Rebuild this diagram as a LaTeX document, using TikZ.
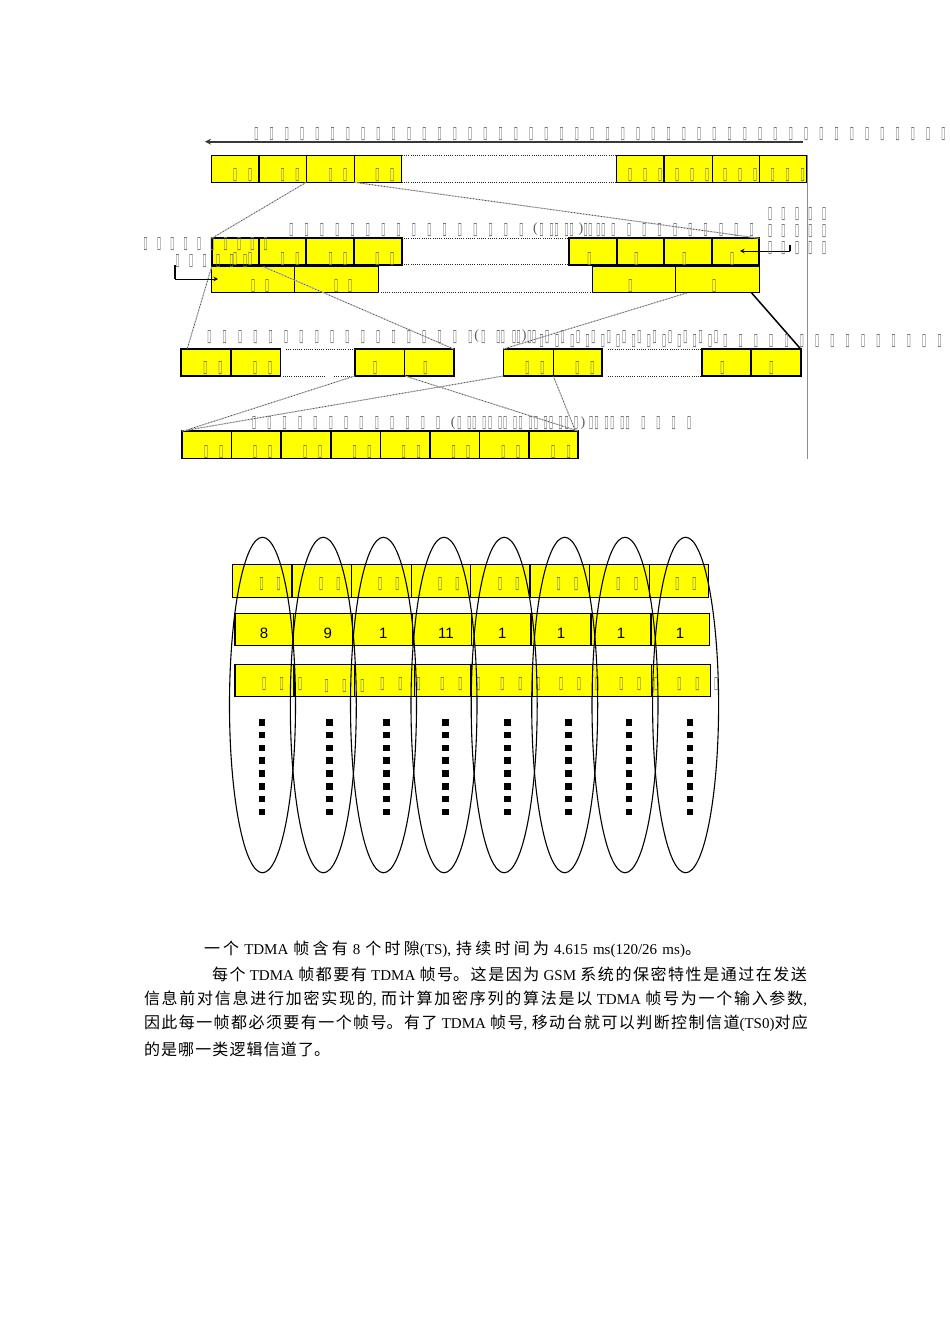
\documentclass[tikz,border=0pt]{standalone}
\usepackage{graphicx}
\usepackage{fontspec}
\setmainfont{Noto Sans CJK SC}
\newfontfamily\timesf{Liberation Serif}
\newfontfamily\arialf{Liberation Sans}
\newfontfamily\tofufont{DejaVu Sans}
\usetikzlibrary{arrows.meta,shapes.geometric}
\definecolor{cellyellow}{RGB}{255,255,0}
\newcounter{gc}
\newcommand\tfg{\resizebox{4.5pt}{11pt}{\tofufont ▯}}
\newcommand\tfrun[4]{\foreach \k in {1,...,#3}{\stepcounter{gc}\node[tofu] (g\arabic{gc}) at ({#2+(\k-1)*#4},#1+.8) {\tfg};}}
\newcommand\tfl[2]{\foreach \x in {#2}{\stepcounter{gc}\node[tofu] (g\arabic{gc}) at (\x,#1+.8) {\tfg};}}
\newcommand\cells[4][]{\foreach \n/\xa/\xb in {#4}{\node[cellbox,#1,minimum width={(\xb-\xa)*1pt},minimum height={(#3-#2)*1pt}] (\n) at ({(\xa+\xb)/2},{(#2+#3)/2}) {};}}
\newcommand\lt[1]{{\timesf\fontsize{15}{15}\selectfont #1}}
\tikzset{
 tofu/.style={inner sep=0,outer sep=0,text=black!55},
 paren/.style={inner sep=0,outer sep=0,text=black!65,font=\timesf\fontsize{14}{14}\selectfont},
 cellbox/.style={draw=black,fill=cellyellow,line width=1.5pt,inner sep=0,outer sep=0},
 conn/.style={draw=black!28,line width=1pt,postaction={draw=black!75,line width=.7pt,dash pattern=on .8pt off 2.2pt}},
 dots/.style={draw=black!85,line width=1pt,dash pattern=on 1pt off 1.2pt},
 bigell/.style={ellipse,draw=black,line width=1.1pt,minimum width=66pt,minimum height=335.5pt,inner sep=0,outer sep=0},
 num/.style={inner sep=0,font=\arialf\fontsize{15}{15}\selectfont},
 sq/.style={fill=black,draw=none,minimum size=6.7pt,inner sep=0,outer sep=0},
 para/.style={anchor=west,inner sep=0,outer sep=0,align=justify,font=\fontsize{16}{18}\selectfont},
}
\XeTeXlinebreaklocale "zh"
\XeTeXlinebreakskip=0pt plus 4pt
\begin{document}
\begin{tikzpicture}[x=1pt,y=-1pt]
\useasboundingbox (0,0) rectangle (950,1344);
% ---- gray vertical rule
\coordinate (vt) at (807.3,155); \coordinate (vb) at (807.3,459);
\draw[draw=black!45,line width=1pt] (vt) -- (vb);
% ---- row A
\cells[line width=1.2pt]{155.7}{182.3}{a1/211.7/259,a2/259/306.3,a3/306.3/354.3,a4/354.3/401.7,a5/616.7/664,a6/664/712.3,a7/712.3/759.7,a8/759.7/806.7}
% ---- row B
\cells[line width=1.7pt]{238.3}{264.7}{b1/211.7/259,b2/259/306.3,b3/306.3/354.3,b4/354.3/401.7,b5/569.3/616.7,b6/616.7/664.3,b7/664.3/712.3,b8/712.3/759.3}
% ---- row C
\cells{266.7}{292.7}{c1/211.7/294.7,c2/294.7/378.3,c3/592.7/675.7,c4/675.7/759.3}
% ---- row D
\cells[line width=1.6pt]{349}{376}{d1/181/230.7,d2/230.7/280.3,d3/354.7/404.3,d4/404.3/453.7,d5/503.3/553.3,d6/553.3/601.7,d7/701.7/751,d8/751/800.7}
% ---- row E
\cells{431}{458.3}{e1/182/231.7,e2/231.7/281,e3/281/331,e4/331/380.7,e5/380.7/430,e6/430/479.7,e7/479.7/529,e8/529/578}
% ---- dotted continuations
\draw[dots] (a4.north east) -- (a5.north west);
\draw[dots] (a4.south east) -- (a5.south west);
\draw[dots] (b4.north east) -- (b5.north west);
\draw[dots] (b4.south east) -- (b5.south west);
\draw[dots] (c2.south east) -- (c3.south west);
\coordinate (dgapa) at (325,376); \coordinate (dgapb) at (334,376);
\coordinate (dtopa) at (286,349); \coordinate (dtopb) at (358,349);
\draw[dots] (dtopa) -- (dtopb);
\draw[dots] (d2.south east) -- (dgapa);
\draw[dots] (dgapb) -- (d3.south west);
\coordinate (dra) at (608,349); \coordinate (drb) at (608,376);
\draw[dots] (dra) -- (d7.north west);
\draw[dots] (drb) -- (d7.south west);
% ---- zoom connectors
\coordinate (k1) at (187.3,348.5);
\coordinate (k2) at (263,266.5);
\coordinate (k3) at (686.7,293);
\coordinate (k4) at (751.7,293);
\coordinate (k5) at (186.7,430);
\coordinate (k6) at (405,376);
\coordinate (k7) at (553.3,376);
\coordinate (k8) at (575,430);
\draw[conn] (a2.south east) -- (b1.north west);
\draw[conn] (a3.south east) -- (b8.north east);
\draw[conn] (c1.north west) -- (k1);
\draw[conn] (k2) -- (d4.north east);
\draw[conn] (k3) -- (d5.north west);
\draw[draw=black,line width=1.5pt] (k4) -- (d8.north east);
\draw[conn] (d3.south west) -- (k5);
\draw[conn] (d5.south west) -- (e1.north west);
\draw[conn] (k6) -- (e8.north east);
\draw[conn] (k7) -- (k8);
% ---- top arrow
\coordinate (tr) at (803,141.7); \coordinate (tl) at (205,141.7);
\draw[draw=black!78,line width=1.7pt,-{Stealth[length=6pt,width=6pt]}] (tr) -- (tl);
% ---- left and right bracket arrows
\coordinate (la) at (175,265); \coordinate (lb) at (175,279); \coordinate (lc) at (218,279);
\draw[line width=1.6pt] (la) -- (lb);
\draw[line width=.9pt,-{Stealth[length=4.5pt,width=4.5pt]}] (lb) -- (lc);
\coordinate (ra) at (790,244.5); \coordinate (rb) at (790,251); \coordinate (rc) at (740,251);
\draw[line width=1.6pt] (ra) -- (rb);
\draw[line width=.9pt,-{Stealth[length=4.5pt,width=4.5pt]}] (rb) -- (rc);
% ---- text rows (undisplayable glyphs)
\tfrun{133}{256.3}{46}{15.27}
\tfrun{229.3}{291.3}{16}{15.33}
\tfl{229.3}{541.5,551.7,556.7,566.7,571.7,585.5,590.3,598.3,603.3,613.3,629,644.3,659.7,675,690.3,705.7,721,736.3,751.7}
\node[paren] (p1) at (535.5,229.3) {(};
\node[paren] (p2) at (581,229.3) {)};
\tfrun{243.3}{145.7}{10}{13.33}
\tfrun{260}{177.7}{6}{13.5}
\tfl{213.3}{770,783.3,797,810.3,824}
\tfl{230}{770,783.3,797,810.3,824}
\tfl{247.3}{770,783.3,797,810.3,824}
\tfrun{336}{209.3}{18}{15.35}
\node[paren] (p3) at (476.7,336) {(};
\tfl{336}{483.3,498.3,502.8,514,518.5,529.3,534,547,562.7,578,593.3,608.8,624,639.3,654.6,670,685.3,700.6,716}
\node[paren] (p4) at (524.2,336) {)};
\tfrun{340}{541.7}{27}{15.3}
\tfrun{422.7}{254}{13}{15.35}
\node[paren] (p5) at (453.3,422.7) {(};
\tfl{422.7}{459.3,469.3,474.3,484.3,490,500,505,515,520.5,530.7,536,545.7,551,560.7,566.7,576,591,596.7,606.7,612.3,622.3,627.7,643.3,658.3,673.7,689}
\node[paren] (p6) at (583,422.7) {)};
% ---- cell labels, upper figure
\tfl{174.3}{235,250,282.7,297.3,330.7,345,377.3,392,630,645,660,677,692,707,725,740,755,772.7,787.7,802.7}
\tfl{258.3}{235,250,282.7,297.3,330.7,345,377.3,392,589.3,636.3,684.3,732}
\tfl{285}{253,267,336,350,630.3,714}
\tfl{367.3}{205.3,220.3,255,270,375,425.3,527.3,542.3,577.3,592.3,722.3,771.3}
\tfl{451}{206,221,255,270,305,320,354.7,369.3,403.7,418.7,453.7,468,503.3,518,553,568.7}
% ---- lower figure
\cells[line width=1.3pt]{564.3}{597.3}{f1/232.7/292,f2/292/351.7,f3/351.7/411.7,f4/411.7/470.7,f5/470.7/530,f6/530/589.7,f7/589.7/649.7,f8/649.7/708.3}
\cells[line width=1.2pt]{613.3}{645.3}{h1/235/293.3,h2/293.3/352.7,h3/352.7/412.7,h4/412.7/471.7,h5/471.7/531,h6/531/591,h7/591/651,h8/651/709.7}
\cells[line width=1.3pt]{664.7}{696.7}{i1/235/294,i2/294/354.3,i3/354.3/414.3,i4/414.3/471,i5/471/532.3,i6/532.3/592.3,i7/592.3/651.7,i8/651.7/710.7}
\tfl{583.3}{261.7,278.7,321,338.3,380,397.3,440,457.3,500,517.3,558.7,576,618.3,636,677.3,694.3}
\tfl{683}{264,281.7,300,382.3,400.3,418.7,442.3,460.3,478.3,502.3,520.3,538.3,561,579,597,621.3,639,656,679.3,697.3,716}
\tfl{685.5}{326.7,344.3,362.3}
\node[num] (n1) at (264,633) {8};
\node[num] (n2) at (327.7,633) {9};
\node[num] (n3) at (383.3,633) {1};
\node[num] (n4) at (446,633) {11};
\node[num] (n5) at (502.3,633) {1};
\node[num] (n6) at (561,633) {1};
\node[num] (n7) at (621,633) {1};
\node[num] (n8) at (680,633) {1};
\foreach \i/\x in {1/262.5,2/323.3,3/383.5,4/444,5/504.2,6/564.7,7/625,8/685.6}{\node[bigell] (el\i) at (\x,705) {};}
\foreach \i/\x in {1/262,2/329.3,3/386.7,4/445.7,5/507.3,6/568.3,7/629,8/690}{
  \foreach \j in {0,...,7}{\node[sq] (sq\i-\j) at (\x,{722.3+\j*12.8}) {};}}
% ---- paragraph
\node[para,text width=497pt] (t1) at (204,949.5) {\parfillskip=0pt 一个 \lt{TDMA} 帧含有 \lt{8} 个时隙\lt{(TS),} 持续时间为 \lt{4.615 ms(120/26 ms)}。\par};
\node[para,text width=595pt] (t2) at (212,974) {\parfillskip=0pt 每个 \lt{TDMA} 帧都要有 \lt{TDMA} 帧号。这是因为 \lt{GSM} 系统的保密特性是通过在发送\par};
\node[para,text width=663pt] (t3) at (144,998.5) {\parfillskip=0pt 信息前对信息进行加密实现的\lt{,} 而计算加密序列的算法是以 \lt{TDMA} 帧号为一个输入参数\lt{,}\par};
\node[para,text width=664pt] (t4) at (144,1023) {\parfillskip=0pt 因此每一帧都必须要有一个帧号。有了 \lt{TDMA} 帧号\lt{,} 移动台就可以判断控制信道\lt{(TS0)}对应\par};
\node[para,text width=186pt] (t5) at (144,1049) {\parfillskip=0pt 的是哪一类逻辑信道了。\par};
\end{tikzpicture}
\end{document}
